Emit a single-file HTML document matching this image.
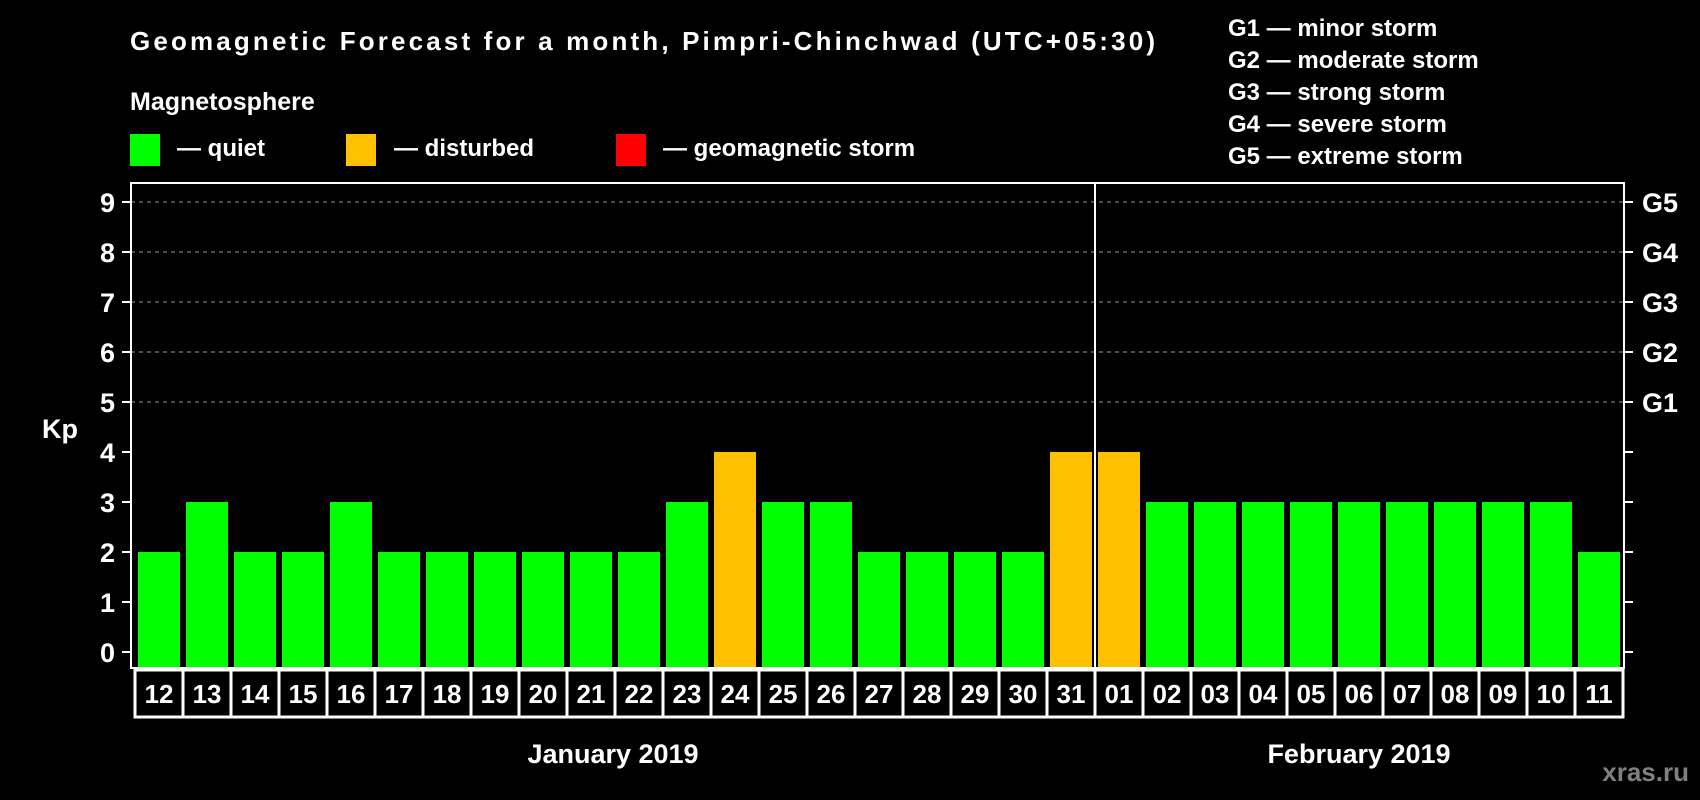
<!DOCTYPE html>
<html><head><meta charset="utf-8"><style>
html,body{margin:0;padding:0;background:#000;}
svg{display:block;font-family:"Liberation Sans",Arial,sans-serif;font-weight:bold;}
</style></head><body>
<svg id="chart" width="1700" height="800" viewBox="0 0 1700 800" xmlns="http://www.w3.org/2000/svg">
<rect x="0" y="0" width="1700" height="800" fill="#000"/>
<text x="130" y="50" fill="#fff" font-size="26" textLength="1025" lengthAdjust="spacing">Geomagnetic Forecast for a month, Pimpri-Chinchwad (UTC+05:30)</text>
<text x="130" y="110" fill="#fff" font-size="25">Magnetosphere</text>
<g>
<rect x="130" y="134" width="30" height="32" fill="#00ff00"/>
<text x="177" y="156" fill="#fff" font-size="24">— quiet</text>
<rect x="346" y="134" width="30" height="32" fill="#ffc000"/>
<text x="394" y="156" fill="#fff" font-size="24">— disturbed</text>
<rect x="616" y="134" width="30" height="32" fill="#ff0000"/>
<text x="663" y="156" fill="#fff" font-size="24">— geomagnetic storm</text>
</g>
<g font-size="24" fill="#fff">
<text x="1228" y="36">G1 — minor storm</text>
<text x="1228" y="68">G2 — moderate storm</text>
<text x="1228" y="100">G3 — strong storm</text>
<text x="1228" y="132">G4 — severe storm</text>
<text x="1228" y="164">G5 — extreme storm</text>
</g>
<text x="42" y="438" fill="#fff" font-size="27">Kp</text>
<text x="613" y="763" fill="#fff" font-size="27" text-anchor="middle">January 2019</text>
<text x="1359" y="763" fill="#fff" font-size="27" text-anchor="middle">February 2019</text>
<text x="1689" y="781" fill="#808080" font-size="26" text-anchor="end">xras.ru</text>
<g id="plot"></g>
</svg>
<script>
const days = ["12","13","14","15","16","17","18","19","20","21","22","23","24","25","26","27","28","29","30","31","01","02","03","04","05","06","07","08","09","10","11"];
const kpValues = [2,3,2,2,3,2,2,2,2,2,2,3,4,3,3,2,2,2,2,4,4,3,3,3,3,3,3,3,3,3,2];
const yTicks = [0,1,2,3,4,5,6,7,8,9];
const gLabels = ["G1","G2","G3","G4","G5"];
const gLevels = [5,6,7,8,9];
const monthBreakIndex = 20;

const NS = "http://www.w3.org/2000/svg";
const plotG = document.getElementById("plot");
const pLeft = 131, pRight = 1624, pTop = 183, pBottom = 668;
const cellX0 = 135, cellW = (pRight - 1 - cellX0) / days.length;
function yScale(v){ return 652 - 50 * v; }
function xScale(i){ return cellX0 + cellW * i; }
function mk(tag, attrs){ const e = document.createElementNS(NS, tag); for (const k in attrs) e.setAttribute(k, attrs[k]); plotG.appendChild(e); return e; }
function colorFor(v){ return v >= 5 ? "#ff0000" : (v >= 4 ? "#ffc000" : "#00ff00"); }

gLevels.forEach((lv, i) => {
  const g = mk("line", {x1:pLeft, x2:pRight, y1:yScale(lv), y2:yScale(lv), stroke:"#999", "stroke-width":1, "stroke-dasharray":"4,4"});
  
  
  const t = mk("text", {x:1642, y:yScale(lv)+10, fill:"#fff", "font-size":27});
  t.textContent = gLabels[i];
  
  
});

yTicks.forEach(v => {
  const y = yScale(v);
  const tl = mk("line", {x1:122, x2:pLeft, y1:y, y2:y, stroke:"#fff", "stroke-width":2});
  
  
  const tr = mk("line", {x1:pRight, x2:1633, y1:y, y2:y, stroke:"#fff", "stroke-width":2});
  
  
  const t = mk("text", {x:115, y:y+10, fill:"#fff", "font-size":27, "text-anchor":"end"});
  t.textContent = v;
  
  
});

kpValues.forEach((v, i) => {
  const x = xScale(i);
  const b = mk("rect", {x:x+3, y:yScale(v), width:cellW-6, height:pBottom - yScale(v), fill:colorFor(v)});
  
  
  const c = mk("rect", {x:x, y:670, width:cellW, height:47, fill:"none", stroke:"#fff", "stroke-width":3});
  
  
  const t = mk("text", {x:x+cellW/2, y:703, fill:"#fff", "font-size":26, "text-anchor":"middle"});
  t.textContent = days[i];
  
  
});

const frame = mk("rect", {x:pLeft, y:pTop, width:pRight-pLeft, height:pBottom-pTop, fill:"none", stroke:"#fff", "stroke-width":2});


const sx = xScale(monthBreakIndex);
const sep = mk("line", {x1:sx, x2:sx, y1:pTop, y2:pBottom, stroke:"#fff", "stroke-width":2});


</script>
</body></html>
